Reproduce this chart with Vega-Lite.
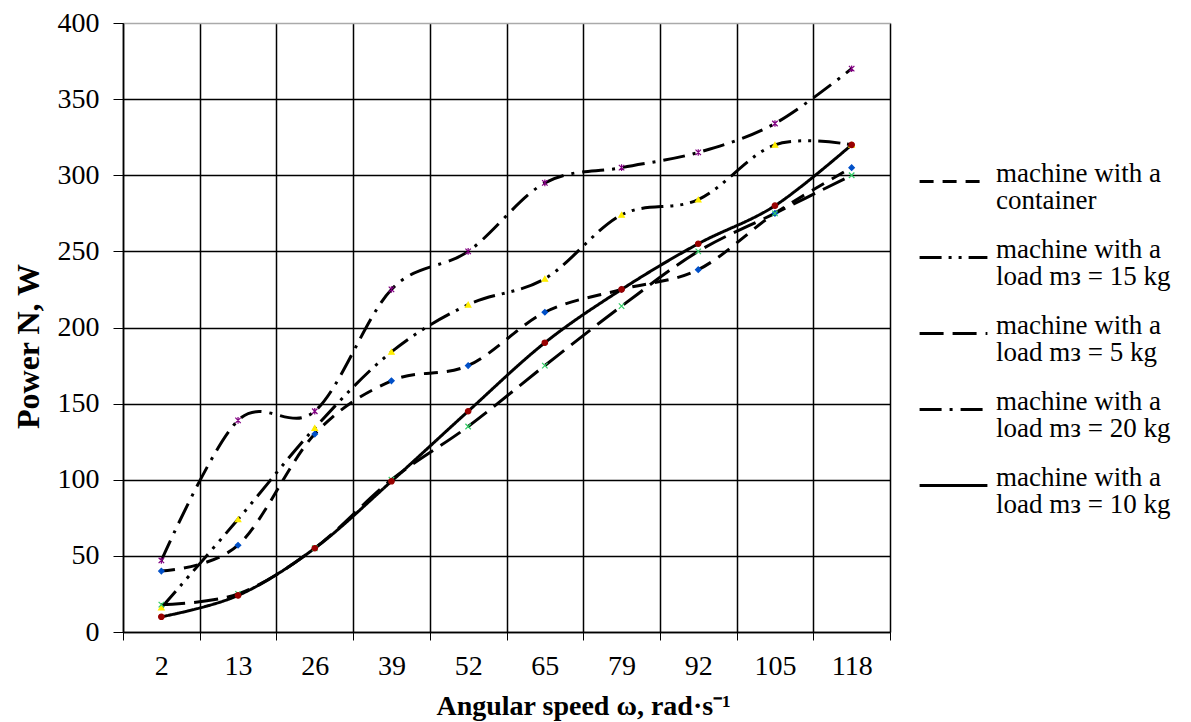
{
  "$schema": "https://vega.github.io/schema/vega-lite/v6.json",
  "width": 767,
  "height": 609,
  "autosize": {"type": "none"},
  "padding": {"left": 123, "top": 23, "right": 301, "bottom": 90},
  "background": "white",
  "config": {
    "font": "Liberation Serif",
    "view": {"stroke": "#888888", "strokeDash": [3, 2], "strokeWidth": 1},
    "style": {"guide-label": {"lineHeight": 27}}
  },
  "data": {
    "values": [
      {"w": 2, "series": "machine with a container", "P": 40},
      {"w": 13, "series": "machine with a container", "P": 57},
      {"w": 26, "series": "machine with a container", "P": 130},
      {"w": 39, "series": "machine with a container", "P": 165},
      {"w": 52, "series": "machine with a container", "P": 175},
      {"w": 65, "series": "machine with a container", "P": 210},
      {"w": 79, "series": "machine with a container", "P": 225},
      {"w": 92, "series": "machine with a container", "P": 238},
      {"w": 105, "series": "machine with a container", "P": 275},
      {"w": 118, "series": "machine with a container", "P": 305},
      {"w": 2, "series": "machine with a load mз = 15 kg", "P": 16},
      {"w": 13, "series": "machine with a load mз = 15 kg", "P": 74},
      {"w": 26, "series": "machine with a load mз = 15 kg", "P": 134},
      {"w": 39, "series": "machine with a load mз = 15 kg", "P": 184},
      {"w": 52, "series": "machine with a load mз = 15 kg", "P": 215},
      {"w": 65, "series": "machine with a load mз = 15 kg", "P": 232},
      {"w": 79, "series": "machine with a load mз = 15 kg", "P": 274},
      {"w": 92, "series": "machine with a load mз = 15 kg", "P": 284},
      {"w": 105, "series": "machine with a load mз = 15 kg", "P": 320},
      {"w": 118, "series": "machine with a load mз = 15 kg", "P": 320},
      {"w": 2, "series": "machine with a load mз = 5 kg", "P": 18},
      {"w": 13, "series": "machine with a load mз = 5 kg", "P": 25},
      {"w": 26, "series": "machine with a load mз = 5 kg", "P": 55},
      {"w": 39, "series": "machine with a load mз = 5 kg", "P": 100},
      {"w": 52, "series": "machine with a load mз = 5 kg", "P": 135},
      {"w": 65, "series": "machine with a load mз = 5 kg", "P": 175},
      {"w": 79, "series": "machine with a load mз = 5 kg", "P": 214},
      {"w": 92, "series": "machine with a load mз = 5 kg", "P": 250},
      {"w": 105, "series": "machine with a load mз = 5 kg", "P": 275},
      {"w": 118, "series": "machine with a load mз = 5 kg", "P": 300},
      {"w": 2, "series": "machine with a load mз = 20 kg", "P": 47},
      {"w": 13, "series": "machine with a load mз = 20 kg", "P": 139},
      {"w": 26, "series": "machine with a load mз = 20 kg", "P": 145},
      {"w": 39, "series": "machine with a load mз = 20 kg", "P": 225},
      {"w": 52, "series": "machine with a load mз = 20 kg", "P": 250},
      {"w": 65, "series": "machine with a load mз = 20 kg", "P": 295},
      {"w": 79, "series": "machine with a load mз = 20 kg", "P": 305},
      {"w": 92, "series": "machine with a load mз = 20 kg", "P": 315},
      {"w": 105, "series": "machine with a load mз = 20 kg", "P": 334},
      {"w": 118, "series": "machine with a load mз = 20 kg", "P": 370},
      {"w": 2, "series": "machine with a load mз = 10 kg", "P": 10},
      {"w": 13, "series": "machine with a load mз = 10 kg", "P": 24},
      {"w": 26, "series": "machine with a load mз = 10 kg", "P": 55},
      {"w": 39, "series": "machine with a load mз = 10 kg", "P": 99},
      {"w": 52, "series": "machine with a load mз = 10 kg", "P": 145},
      {"w": 65, "series": "machine with a load mз = 10 kg", "P": 190},
      {"w": 79, "series": "machine with a load mз = 10 kg", "P": 225},
      {"w": 92, "series": "machine with a load mз = 10 kg", "P": 255},
      {"w": 105, "series": "machine with a load mз = 10 kg", "P": 280},
      {"w": 118, "series": "machine with a load mз = 10 kg", "P": 320}
    ]
  },
  "encoding": {
    "x": {
      "field": "w",
      "type": "ordinal",
      "scale": {"type": "band", "paddingInner": 0, "paddingOuter": 0},
      "axis": {
        "title": "Angular speed ω, rad·s⁻¹",
        "titleFontSize": 28,
        "titleFontWeight": "bold",
        "titleColor": "black",
        "titlePadding": 12,
        "titleX": 460,
        "labelAngle": 0,
        "labelFontSize": 28,
        "labelColor": "black",
        "labelPadding": 12,
        "tickBand": "extent",
        "tickSize": 8,
        "tickColor": "black",
        "domainColor": "black",
        "domainWidth": 1.5,
        "grid": true,
        "gridColor": "black",
        "gridWidth": 1.5,
        "gridOpacity": 1
      }
    },
    "y": {
      "field": "P",
      "type": "quantitative",
      "scale": {"domain": [0, 400], "nice": false},
      "axis": {
        "title": "Power N, W",
        "titleFontSize": 32,
        "titleFontWeight": "bold",
        "titleColor": "black",
        "titlePadding": 12,
        "titleY": 323,
        "values": [0, 50, 100, 150, 200, 250, 300, 350, 400],
        "labelFontSize": 28,
        "labelColor": "black",
        "labelPadding": 14,
        "tickSize": 10,
        "tickColor": "black",
        "domainColor": "black",
        "domainWidth": 1.5,
        "grid": true,
        "gridColor": {"condition": {"test": "datum.value == 400", "value": "#aaaaaa"}, "value": "black"},
        "gridWidth": 1.5,
        "gridOpacity": 1
      }
    }
  },
  "layer": [
    {
      "mark": {"type": "line", "interpolate": "cardinal", "color": "black", "strokeWidth": 3},
      "encoding": {
        "strokeDash": {
          "field": "series",
          "type": "nominal",
          "scale": {
            "domain": ["machine with a container", "machine with a load mз = 15 kg", "machine with a load mз = 5 kg", "machine with a load mз = 20 kg", "machine with a load mз = 10 kg"],
            "range": [[14, 9], [22, 7, 3, 7, 3, 7], [24, 9], [22, 8, 3, 8], [1, 0]]
          },
          "legend": {
            "title": null,
            "orient": "none",
            "legendX": 795,
            "legendY": 123,
            "symbolType": "stroke",
            "symbolSize": 4600,
            "symbolStrokeWidth": 3,
            "symbolStrokeColor": "black",
            "labelFontSize": 27,
            "labelColor": "black",
            "labelLimit": 400,
            "labelOffset": 7,
            "labelBaseline": "alphabetic",
            "rowPadding": 8,
            "labelExpr": "[slice(datum.label, 0, 14), slice(datum.label, 15)]"
          }
        }
      }
    },
    {
      "mark": {"type": "point", "filled": true, "size": 30, "strokeWidth": 1.2, "opacity": 1},
      "encoding": {
        "shape": {
          "field": "series",
          "type": "nominal",
          "scale": {
            "range": ["diamond", "circle", "triangle-up", "M-1,-1L1,1M-1,1L1,-1M0,-1.2L0,1.2", "M-1,-1L1,1M-1,1L1,-1"]
          },
          "legend": null
        },
        "fill": {
          "field": "series",
          "type": "nominal",
          "scale": {
            "range": ["#0050c8", "#990000", "#ffee00", "#800080", "#33cc66"]
          },
          "legend": null
        },
        "stroke": {
          "field": "series",
          "type": "nominal",
          "scale": {
            "range": ["#0050c8", "#990000", "#ffee00", "#800080", "#33cc66"]
          },
          "legend": null
        }
      }
    }
  ]
}
